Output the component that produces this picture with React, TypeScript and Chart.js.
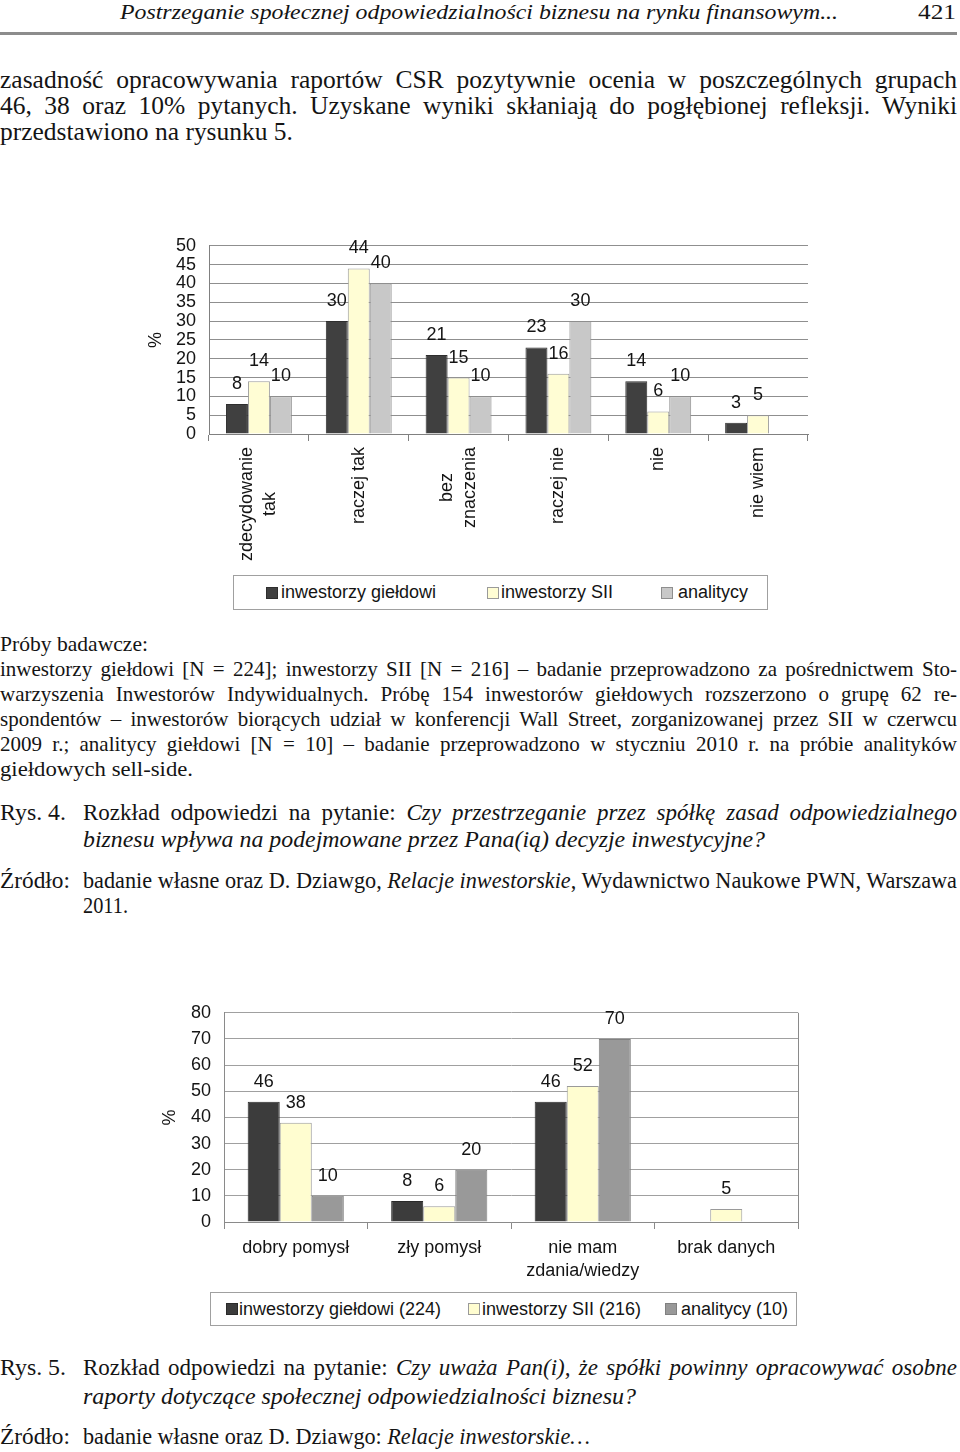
import React, { useEffect, useLayoutEffect, useRef } from 'react';
import { Chart, registerables } from 'chart.js';

Chart.register(...registerables);

const SANS = '"Liberation Sans", Arial, Helvetica, sans-serif';
const SERIF = '"Liberation Serif", "Times New Roman", Times, serif';

// ---------- Chart 1 data (Rys. 4) ----------
const categories1: string[][] = [['zdecydowanie', 'tak'], ['raczej tak'], ['bez', 'znaczenia'], ['raczej nie'], ['nie'], ['nie wiem']];
const seriesNames1 = ['inwestorzy giełdowi', 'inwestorzy SII', 'analitycy'];
const gieldowi1 = [8, 30, 21, 23, 14, 3];
const sii1 = [14, 44, 15, 16, 6, 5];
const analitycy1 = [10, 40, 10, 30, 10, null];
const yMax1 = 50;
const yStep1 = 5;

// ---------- Chart 2 data (Rys. 5) ----------
const categories2: string[][] = [['dobry pomysł'], ['zły pomysł'], ['nie mam', 'zdania/wiedzy'], ['brak danych']];
const seriesNames2 = ['inwestorzy giełdowi (224)', 'inwestorzy SII (216)', 'analitycy (10)'];
const gieldowi2 = [46, 8, 46, null];
const sii2 = [38, 6, 52, 5];
const analitycy2 = [10, 20, 70, null];
const yMax2 = 80;
const yStep2 = 10;

const TEXT = '#141414';

const valueLabels = {
  id: 'valueLabels',
  afterDatasetsDraw(chart: any) {
    const ctx = chart.ctx;
    ctx.save();
    ctx.font = `18px ${SANS}`;
    ctx.fillStyle = TEXT;
    ctx.textAlign = 'center';
    ctx.textBaseline = 'middle';
    chart.data.datasets.forEach((ds: any, di: number) => {
      const meta = chart.getDatasetMeta(di);
      meta.data.forEach((el: any, i: number) => {
        const v = ds.data[i];
        if (v == null || v === 0) return;
        ctx.fillText(String(v), el.x, el.y - 20);
      });
    });
    ctx.restore();
  },
};

const catLabels = {
  id: 'catLabels',
  afterDraw(chart: any, _args: any, opts: any) {
    const xs = chart.scales.x;
    const ctx = chart.ctx;
    ctx.save();
    ctx.font = `18px ${SANS}`;
    ctx.fillStyle = TEXT;
    ctx.textAlign = 'center';
    ctx.textBaseline = 'middle';
    (chart.data.labels as string[][]).forEach((lines, i) => {
      const px = xs.getPixelForValue(i);
      const n = lines.length;
      if (opts.rotated) {
        const maxW = Math.max(...lines.map((l) => ctx.measureText(l).width));
        const cy = chart.chartArea.bottom + opts.gap + maxW / 2;
        ctx.save();
        ctx.translate(px, cy);
        ctx.rotate(-Math.PI / 2);
        lines.forEach((l, j) => ctx.fillText(l, 0, (j - (n - 1) / 2) * opts.lineGap));
        ctx.restore();
      } else {
        lines.forEach((l, j) => ctx.fillText(l, px, chart.chartArea.bottom + opts.gap + j * opts.lineGap));
      }
    });
    ctx.restore();
  },
};

const rightFrame = {
  id: 'rightFrame',
  beforeDatasetsDraw(chart: any, _a: any, opts: any) {
    if (!opts.show) return;
    const { right, top, bottom } = chart.chartArea;
    const ctx = chart.ctx;
    ctx.save();
    ctx.strokeStyle = opts.color;
    ctx.lineWidth = 1;
    ctx.beginPath();
    ctx.moveTo(Math.round(right) + 0.5, top);
    ctx.lineTo(Math.round(right) + 0.5, bottom);
    ctx.stroke();
    ctx.restore();
  },
};

function makeConfig(p: any) {
  return {
    type: 'bar',
    data: {
      labels: p.labels,
      datasets: p.series.map((data: any, i: number) => ({
        label: p.names[i],
        data,
        backgroundColor: p.colors[i],
        borderColor: p.borders[i],
        borderWidth: 1,
        barPercentage: 1,
        categoryPercentage: p.catPct,
      })),
    },
    plugins: [valueLabels, catLabels, rightFrame],
    options: {
      responsive: false,
      animation: false,
      devicePixelRatio: 1,
      layout: { padding: { top: p.padTop, right: p.padRight, left: 0, bottom: 0 } },
      scales: {
        x: {
          type: 'category',
          offset: true,
          grid: { offset: true, drawOnChartArea: false, drawTicks: true, tickLength: 7, color: p.axisColor },
          border: { display: true, color: p.axisColor },
          ticks: { display: false },
          afterFit: (s: any) => { s.height = p.xHeight; },
        },
        y: {
          min: 0,
          max: p.max,
          ticks: { stepSize: p.step, autoSkip: false, font: { size: 18, family: SANS }, color: TEXT, padding: 13 },
          grid: { color: p.gridColor, drawTicks: false },
          border: { display: true, color: p.axisColor },
          title: { display: true, text: '%', font: { size: 18, family: SANS }, color: TEXT, padding: { top: p.titlePad, bottom: 0 } },
          afterFit: (s: any) => { s.width = p.yWidth; },
        },
      },
      plugins: {
        legend: { display: false },
        tooltip: { enabled: false },
        catLabels: { rotated: p.rotated, gap: p.gap, lineGap: p.lineGap },
        rightFrame: { show: p.rightFrame, color: p.axisColor },
      },
    },
  };
}

function BarChart({ cfg, left, top, width, height }: any) {
  const ref = useRef<HTMLCanvasElement>(null);
  useEffect(() => {
    Chart.defaults.font.family = SANS;
    const ch = new Chart(ref.current as HTMLCanvasElement, cfg as any);
    return () => ch.destroy();
  }, []);
  return <canvas ref={ref} width={width} height={height} style={{ position: 'absolute', left, top, width, height }} />;
}

function TextLine({ x, base, w, fs, justify, italic, children }: any) {
  const ref = useRef<HTMLDivElement>(null);
  useLayoutEffect(() => {
    const measure = () => {
      const el = ref.current;
      if (!el || !w) return;
      el.style.wordSpacing = '0px';
      el.style.transform = 'none';
      const nat = el.getBoundingClientRect().width;
      const spaces = ((el.textContent || '').match(/ /g) || []).length;
      if (justify && nat < w && spaces > 0) {
        el.style.wordSpacing = (w - nat) / spaces + 'px';
      } else if (nat > 0) {
        el.style.transform = `scaleX(${w / nat})`;
      }
    };
    measure();
    if ((document as any).fonts) (document as any).fonts.ready.then(measure);
  }, []);
  return (
    <div
      ref={ref}
      style={{
        position: 'absolute',
        left: x,
        top: base - 0.8375 * fs,
        whiteSpace: 'pre',
        fontSize: fs,
        lineHeight: fs + 'px',
        fontFamily: SERIF,
        fontStyle: italic ? 'italic' : 'normal',
        transformOrigin: '0 0',
        color: TEXT,
      }}
    >
      {children}
    </div>
  );
}

function Legend({ left, top, width, height, items }: any) {
  return (
    <div style={{ position: 'absolute', left, top, width, height, border: '1px solid #a0a0a0', boxSizing: 'border-box', background: '#fff' }}>
      {items.map((it: any, i: number) => (
        <React.Fragment key={i}>
          <div style={{ position: 'absolute', left: it.sq - left, top: height / 2 - 7, width: 12, height: 12, background: it.color, border: `1px solid ${it.border}`, boxSizing: 'border-box' }} />
          <div style={{ position: 'absolute', left: it.tx - left, top: 0, height: height - 2, lineHeight: height - 2 + 'px', fontSize: 18, fontFamily: SANS, color: TEXT, whiteSpace: 'pre' }}>{it.label}</div>
        </React.Fragment>
      ))}
    </div>
  );
}

const colors1 = ['#404040', '#fffdd4', '#c8c8c8'];
const borders1 = ['#2e2e2e', '#9a9a9a', '#8e8e8e'];
const colors2 = ['#3c3c3c', '#fffdd0', '#999999'];
const borders2 = ['#2a2a2a', '#9a9a9a', '#808080'];

export default function App() {
  const cfg1 = makeConfig({
    labels: categories1,
    series: [gieldowi1, sii1, analitycy1],
    names: seriesNames1,
    colors: colors1,
    borders: borders1,
    catPct: 0.66,
    padTop: 6,
    padRight: 10,
    xHeight: 133,
    yWidth: 79,
    max: yMax1,
    step: yStep1,
    gridColor: '#8f8f8f',
    axisColor: '#808080',
    titlePad: 15,
    rotated: true,
    gap: 13,
    lineGap: 23,
    rightFrame: false,
  });
  const cfg2 = makeConfig({
    labels: categories2,
    series: [gieldowi2, sii2, analitycy2],
    names: seriesNames2,
    colors: colors2,
    borders: borders2,
    catPct: 0.67,
    padTop: 6,
    padRight: 10,
    xHeight: 65,
    yWidth: 74,
    max: yMax2,
    step: yStep2,
    gridColor: '#a0a0a0',
    axisColor: '#8a8a8a',
    titlePad: 9,
    rotated: false,
    gap: 26,
    lineGap: 23,
    rightFrame: true,
  });

  return (
    <div style={{ position: 'absolute', left: 0, top: 0, width: 960, height: 1452, overflow: 'hidden', background: '#fff' }}>
      {/* header */}
      <TextLine x={120} base={19} w={718} fs={22} italic>Postrzeganie społecznej odpowiedzialności biznesu na rynku finansowym...</TextLine>
      <TextLine x={918} base={19} w={38} fs={22}>421</TextLine>
      <div style={{ position: 'absolute', left: 0, top: 32, width: 957, height: 3, background: '#8c8c8c' }} />

      {/* paragraph */}
      <TextLine x={0} base={88} w={957} fs={25.5} justify>zasadność opracowywania raportów CSR pozytywnie ocenia w poszczególnych grupach</TextLine>
      <TextLine x={0} base={114} w={957} fs={25.5} justify>46, 38 oraz 10% pytanych. Uzyskane wyniki skłaniają do pogłębionej refleksji. Wyniki</TextLine>
      <TextLine x={0} base={140} w={293} fs={25.5}>przedstawiono na rysunku 5.</TextLine>

      {/* chart 1 */}
      <BarChart cfg={cfg1} left={130} top={222} width={688} height={345} />
      <Legend
        left={233}
        top={575}
        width={535}
        height={35}
        items={[
          { sq: 265, tx: 280, color: colors1[0], border: borders1[0], label: seriesNames1[0] },
          { sq: 486, tx: 500, color: colors1[1], border: borders1[1], label: seriesNames1[1] },
          { sq: 660, tx: 677, color: colors1[2], border: borders1[2], label: seriesNames1[2] },
        ]}
      />

      {/* notes */}
      <TextLine x={0} base={652} w={148} fs={21}>Próby badawcze:</TextLine>
      <TextLine x={0} base={677} w={957} fs={21} justify>inwestorzy giełdowi [N = 224]; inwestorzy SII [N = 216] – badanie przeprowadzono za pośrednictwem Sto-</TextLine>
      <TextLine x={0} base={702} w={957} fs={21} justify>warzyszenia Inwestorów Indywidualnych. Próbę 154 inwestorów giełdowych rozszerzono o grupę 62 re-</TextLine>
      <TextLine x={0} base={727} w={957} fs={21} justify>spondentów – inwestorów biorących udział w konferencji Wall Street, zorganizowanej przez SII w czerwcu</TextLine>
      <TextLine x={0} base={752} w={957} fs={21} justify>2009 r.; analitycy giełdowi [N = 10] – badanie przeprowadzono w styczniu 2010 r. na próbie analityków</TextLine>
      <TextLine x={0} base={777} w={193} fs={21}>giełdowych sell-side.</TextLine>

      <TextLine x={0} base={820} w={66} fs={23}>Rys. 4.</TextLine>
      <TextLine x={83} base={820} w={874} fs={23} justify>Rozkład odpowiedzi na pytanie: <i>Czy przestrzeganie przez spółkę zasad odpowiedzialnego</i></TextLine>
      <TextLine x={83} base={847} w={682} fs={23} italic>biznesu wpływa na podejmowane przez Pana(ią) decyzje inwestycyjne?</TextLine>
      <TextLine x={0} base={888} w={70} fs={23}>Źródło:</TextLine>
      <TextLine x={83} base={888} w={874} fs={23} justify>badanie własne oraz D. Dziawgo, <i>Relacje inwestorskie</i>, Wydawnictwo Naukowe PWN, Warszawa</TextLine>
      <TextLine x={83} base={913} w={45} fs={23}>2011.</TextLine>

      {/* chart 2 */}
      <BarChart cfg={cfg2} left={150} top={989} width={658} height={298} />
      <Legend
        left={210}
        top={1292}
        width={587}
        height={34}
        items={[
          { sq: 225, tx: 238, color: colors2[0], border: borders2[0], label: seriesNames2[0] },
          { sq: 467, tx: 481, color: colors2[1], border: borders2[1], label: seriesNames2[1] },
          { sq: 664, tx: 680, color: colors2[2], border: borders2[2], label: seriesNames2[2] },
        ]}
      />

      <TextLine x={0} base={1375} w={66} fs={23}>Rys. 5.</TextLine>
      <TextLine x={83} base={1375} w={874} fs={23} justify>Rozkład odpowiedzi na pytanie: <i>Czy uważa Pan(i), że spółki powinny opracowywać osobne</i></TextLine>
      <TextLine x={83} base={1404} w={553} fs={23} italic>raporty dotyczące społecznej odpowiedzialności biznesu?</TextLine>
      <TextLine x={0} base={1444} w={70} fs={23}>Źródło:</TextLine>
      <TextLine x={83} base={1444} w={507} fs={23}>badanie własne oraz D. Dziawgo: <i>Relacje inwestorskie…</i></TextLine>
    </div>
  );
}
